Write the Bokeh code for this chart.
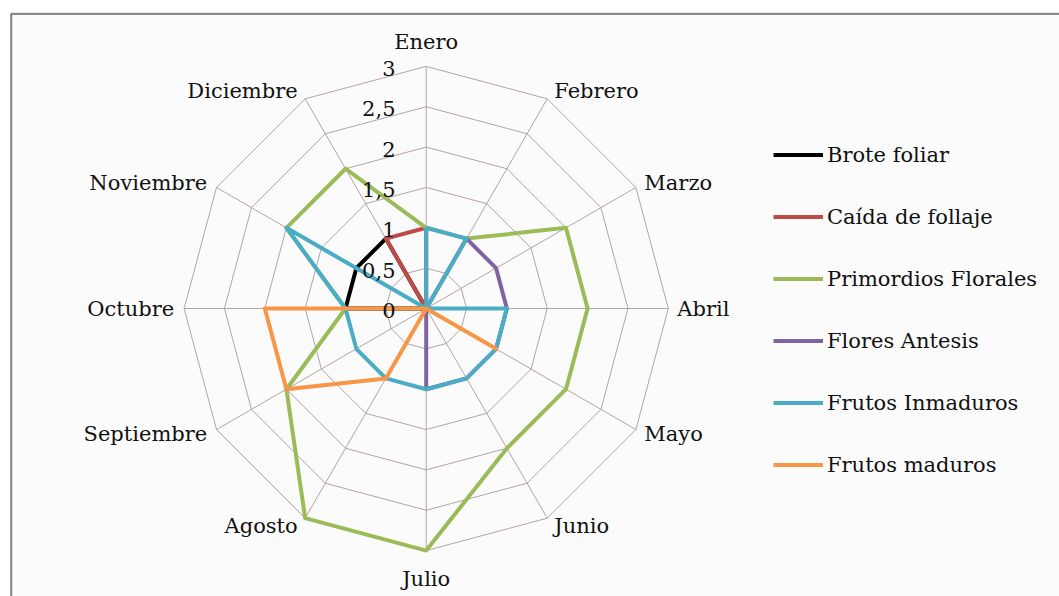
import math
from bokeh.plotting import figure
from bokeh.models import Range1d, Legend, LegendItem
from bokeh.core.properties import value
from bokeh.embed import file_html
from bokeh.resources import INLINE

# ---------------- data ----------------
months = ["Enero", "Febrero", "Marzo", "Abril", "Mayo", "Junio",
          "Julio", "Agosto", "Septiembre", "Octubre", "Noviembre", "Diciembre"]
tick_values = [0, 0.5, 1, 1.5, 2, 2.5, 3]
tick_labels = ["0", "0,5", "1", "1,5", "2", "2,5", "3"]

series_names = ["Brote foliar", "Caída de follaje", "Primordios Florales",
                "Flores Antesis", "Frutos Inmaduros", "Frutos maduros"]
brote_foliar        = [0, 0, 0, 0, 0, 0, 0, 0, 0, 1, 1, 1]
caida_follaje       = [1, 0, 0, 0, 0, 0, 0, 0, 0, 0, 0, 1]
primordios_florales = [1, 1, 2, 2, 2, 2, 3, 3, 2, 1, 2, 2]
flores_antesis      = [0, 1, 1, 1, 1, 1, 1, 0, 0, 0, 0, 0]
frutos_inmaduros    = [1, 1, 0, 1, 1, 1, 1, 1, 1, 1, 2, 0]
frutos_maduros      = [0, 0, 0, 0, 1, 0, 0, 1, 2, 2, 0, 0]
series_values = [brote_foliar, caida_follaje, primordios_florales,
                 flores_antesis, frutos_inmaduros, frutos_maduros]
series_colors = ["#000000", "#be4b48", "#9bbb59", "#8064a2", "#4bacc6", "#f79646"]

# ---------------- layout ----------------
W, H = 1059, 596
S = 80.7                 # px per radial unit
CX, CY = 425.7, 308.0    # centre in canvas px (from top-left)
RMAX = 3.0
FONT = "DejaVu Serif"
FS = "21px"
TXT = "#111111"

def px(d):
    return d / S

p = figure(width=W, height=H, output_backend="svg", toolbar_location=None,
           x_range=Range1d(-CX / S, (W - CX) / S),
           y_range=Range1d(-(H - CY) / S, CY / S),
           min_border=0, outline_line_color=None,
           background_fill_color="white", border_fill_color="white")
p.axis.visible = False
p.grid.visible = False

# chart-area frame (top and left edges visible, extends off the page)
left_d = px(10.7 - CX)
top_d = px(CY - 13.3)
p.quad(left=[left_d], right=[px(W + 40 - CX)], top=[top_d], bottom=[px(-(H + 40 - CY))],
       fill_color="#fbfbfb", line_color="#8a8a8a", line_width=2.2)

n = len(months)
ang = [2 * math.pi * i / n for i in range(n)]
sx = [math.sin(a) for a in ang]
cy_ = [math.cos(a) for a in ang]

# rings
grid_col = "#b3a4a0"
for r in tick_values[1:]:
    xs = [r * s for s in sx] + [r * sx[0]]
    ys = [r * c for c in cy_] + [r * cy_[0]]
    p.line(xs, ys, line_color=grid_col, line_width=1)
# spokes
p.segment(x0=[0] * n, y0=[0] * n, x1=[RMAX * s for s in sx], y1=[RMAX * c for c in cy_],
          line_color=grid_col, line_width=1)

# series
renderers = []
for vals, col in zip(series_values, series_colors):
    xs = [v * s for v, s in zip(vals, sx)] + [vals[0] * sx[0]]
    ys = [v * c for v, c in zip(vals, cy_)] + [vals[0] * cy_[0]]
    r = p.line(xs, ys, line_color=col, line_width=4, line_join="round")
    renderers.append(r)

# radial tick labels
p.text(x=[px(-30.7)] * len(tick_values), y=[t - px(2) for t in tick_values], text=tick_labels,
       text_font=value(FONT), text_font_size=FS, text_color=TXT,
       text_align="right", text_baseline="middle")

# month labels
lx, ly, la = [], [], []
for i in range(n):
    ex, ey = RMAX * sx[i], RMAX * cy_[i]
    if i == 0:
        lx.append(ex); ly.append(ey + px(24)); la.append("center")
    elif i == 6:
        lx.append(ex); ly.append(ey - px(28)); la.append("center")
    elif i < 6:
        lx.append(ex + px(5 + 4 * abs(sx[i]))); ly.append(ey + px(9 * cy_[i])); la.append("left")
    else:
        lx.append(ex - px(5 + 5 * abs(sx[i]))); ly.append(ey + px(9 * cy_[i])); la.append("right")
for i in range(n):
    p.text(x=[lx[i]], y=[ly[i]], text=[months[i]], text_font=value(FONT), text_font_size=FS,
           text_color=TXT, text_align=la[i], text_baseline="middle")

# legend
items = [LegendItem(label=nm, renderers=[r]) for nm, r in zip(series_names, renderers)]
legend = Legend(items=items, location=(773, 119), orientation="vertical",
                glyph_width=50, glyph_height=25, label_height=25, spacing=37,
                label_standoff=4, padding=0, margin=0,
                border_line_color=None, background_fill_alpha=0,
                label_text_font=FONT, label_text_font_size=FS, label_text_color=TXT)
p.add_layout(legend, "center")

open("out.html", "w").write(file_html(p, INLINE))
